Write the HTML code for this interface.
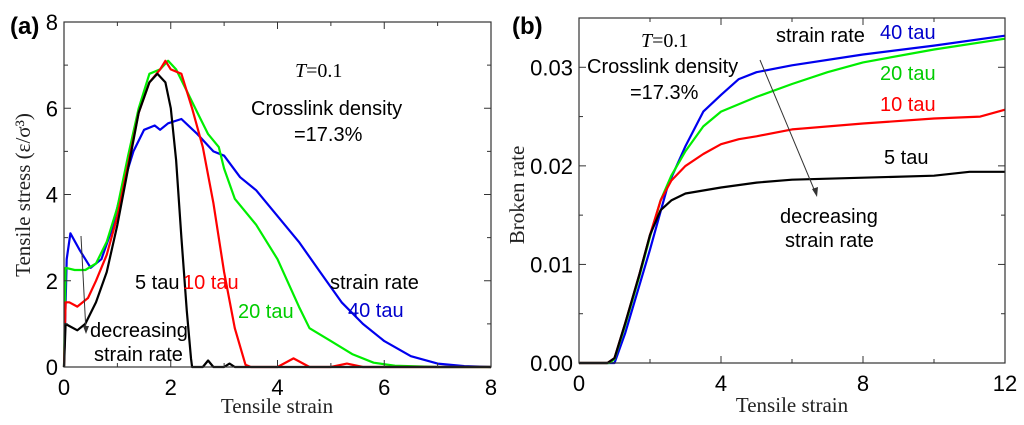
<!DOCTYPE html>
<html><head><meta charset="utf-8"><style>
body{margin:0;background:#fff;}
svg{display:block;}
.t{font-family:"Liberation Sans",sans-serif;}
.s{font-family:"Liberation Serif",serif;}
</style></head><body>
<svg id="svg" width="1024" height="425" viewBox="0 0 1024 425" xmlns="http://www.w3.org/2000/svg"></svg>
<script>
// Panel a data
const aX5=[0,0.03,0.1,0.25,0.4,0.6,0.8,1.0,1.2,1.4,1.6,1.75,1.9,2.0,2.1,2.2,2.3,2.38,2.4,2.6,2.7,2.8,3.0,3.1,3.2,8];
const aY5=[0,1.0,0.95,0.85,1.0,1.5,2.2,3.3,4.6,5.9,6.6,6.8,6.6,6.0,4.8,3.0,1.3,0.2,0,0,0.15,0,0,0.08,0,0];
const aX10=[0,0.03,0.1,0.25,0.45,0.6,0.8,1.0,1.2,1.4,1.6,1.8,1.9,2.0,2.2,2.4,2.6,2.8,3.0,3.2,3.4,3.5,4.0,4.3,4.6,5.0,5.3,5.6,8];
const aY10=[0,1.5,1.5,1.4,1.6,2.0,2.6,3.5,4.7,5.9,6.6,6.9,7.1,6.9,6.8,6.0,5.1,3.8,2.2,0.9,0.05,0,0,0.2,0,0,0.08,0,0];
const aX20=[0,0.03,0.2,0.4,0.6,0.8,1.0,1.2,1.4,1.6,1.8,1.95,2.1,2.3,2.5,2.7,2.9,3.0,3.2,3.6,4.0,4.4,4.6,5.0,5.4,5.8,6.2,7,8];
const aY20=[0,2.3,2.25,2.25,2.4,2.9,3.7,4.9,6.0,6.8,6.9,7.1,6.9,6.4,5.9,5.4,5.1,4.6,3.9,3.3,2.5,1.4,0.9,0.6,0.3,0.1,0.03,0,0];
const aX40=[0,0.05,0.12,0.3,0.5,0.7,0.9,1.1,1.3,1.5,1.7,1.8,1.95,2.2,2.5,2.8,3.0,3.3,3.6,4.0,4.4,4.8,5.2,5.6,6.0,6.5,7.0,7.5,8];
const aY40=[0,2.5,3.1,2.7,2.3,2.5,3.2,4.2,5.0,5.5,5.6,5.5,5.65,5.75,5.4,5.0,4.9,4.4,4.1,3.5,2.9,2.2,1.5,1.0,0.6,0.25,0.08,0.02,0];
const aXTicks=[0,2,4,6,8];
const aYTicks=[0,2,4,6,8];
// Panel b data
const bX5=[0,0.8,1.0,1.3,1.7,2.0,2.3,2.6,3,4,5,6,8,10,11,12];
const bY5=[0,0,0.0005,0.004,0.009,0.013,0.0155,0.0165,0.0172,0.0178,0.0183,0.0186,0.0188,0.019,0.0194,0.0194];
const bX10=[0,0.8,1.0,1.3,1.7,2.0,2.3,2.6,3,3.5,4,4.5,5,6,8,10,11.3,12];
const bY10=[0,0,0.0005,0.004,0.009,0.013,0.0165,0.0185,0.020,0.0212,0.0222,0.0227,0.023,0.0237,0.0243,0.0248,0.025,0.0257];
const bX20=[0,0.85,1.0,1.3,1.7,2.0,2.3,2.6,3,3.5,4,5,6,7,8,10,12];
const bY20=[0,0,0.0004,0.0038,0.0088,0.0128,0.0165,0.019,0.0215,0.024,0.0255,0.027,0.0283,0.0295,0.0305,0.0318,0.0329];
const bX40=[0,1.0,1.3,2.0,2.5,3,3.5,4,4.5,5,6,8,10,12];
const bY40=[0,0,0.003,0.0115,0.018,0.022,0.0255,0.0272,0.0288,0.0295,0.0302,0.0313,0.0322,0.0332];
const bXTicks=[0,4,8,12];
const bYTicks=[0,0.01,0.02,0.03];
const bYLabels=["0.00","0.01","0.02","0.03"];

const NS="http://www.w3.org/2000/svg";
const svg=document.getElementById('svg');
function mk(tag,attrs,parent){const e=document.createElementNS(NS,tag);for(const k in attrs)e.setAttribute(k,attrs[k]);(parent||svg).appendChild(e);return e;}
function txt(x,y,s,cls,size,fill,anchor,name,extra){const e=mk('text',Object.assign({x:x,y:y,class:cls,'font-size':size,fill:fill,'text-anchor':anchor||'start'},extra||{}));e.textContent=s;


return e;}

function panel(p){
  const sx=v=>p.x0+(v-p.xmin)/(p.xmax-p.xmin)*(p.x1-p.x0);
  const sy=v=>p.y0-(v-p.ymin)/(p.ymax-p.ymin)*(p.y0-p.y1);
  const g=mk('g',{});
  
  
  p.series.forEach(s=>{
    let d='';s.x.forEach((v,i)=>{d+=(i?'L':'M')+sx(v).toFixed(1)+','+sy(s.y[i]).toFixed(1);});
    const l=mk('path',{d:d,fill:'none',stroke:s.c,'stroke-width':2.2,'stroke-linejoin':'round'},g);
    
    
  });
  const f=mk('rect',{x:p.x0,y:p.y1,width:p.x1-p.x0,height:p.y0-p.y1,fill:'none',stroke:'#333','stroke-width':1.2},g);
  
  
  for(let v=p.xmin;v<=p.xmax+1e-9;v+=p.xminor){const X=sx(v);const major=p.xt.some(t=>Math.abs(t-v)<1e-9);const L=major?7:4;
    mk('line',{x1:X,y1:p.y0,x2:X,y2:p.y0-L,stroke:'#333','stroke-width':1},g);mk('line',{x1:X,y1:p.y1,x2:X,y2:p.y1+L,stroke:'#333','stroke-width':1},g);}
  for(let v=p.ymin;v<=p.ymax+1e-9;v+=p.yminor){const Y=sy(v);const major=p.yt.some(t=>Math.abs(t-v)<1e-9);const L=major?7:4;
    mk('line',{x1:p.x0,y1:Y,x2:p.x0+L,y2:Y,stroke:'#333','stroke-width':1},g);mk('line',{x1:p.x1,y1:Y,x2:p.x1-L,y2:Y,stroke:'#333','stroke-width':1},g);}
  p.xt.forEach(v=>txt(sx(v),p.y0+28,String(v),'t',22,'#000','middle','x-tick-label'));
  p.yt.forEach((v,i)=>txt(p.x0-6,sy(v)+8,p.yl?p.yl[i]:String(v),'t',22,'#000','end','y-tick-label'));
  return {sx,sy};
}

panel({name:'panel-a',x0:64,x1:491,y0:367,y1:22,xmin:0,xmax:8,ymin:0,ymax:8,xminor:1,yminor:1,xt:aXTicks,yt:aYTicks,
  series:[{x:aX40,y:aY40,c:'#0000ee',n:'line-40-tau'},{x:aX20,y:aY20,c:'#00ee00',n:'line-20-tau'},{x:aX10,y:aY10,c:'#ff0000',n:'line-10-tau'},{x:aX5,y:aY5,c:'#000',n:'line-5-tau'}]});
panel({name:'panel-b',x0:579,x1:1005,y0:363,y1:18,xmin:0,xmax:12,ymin:0,ymax:0.035,xminor:2,yminor:0.005,xt:bXTicks,yt:bYTicks,yl:bYLabels,
  series:[{x:bX40,y:bY40,c:'#0000ee',n:'line-40-tau'},{x:bX20,y:bY20,c:'#00ee00',n:'line-20-tau'},{x:bX10,y:bY10,c:'#ff0000',n:'line-10-tau'},{x:bX5,y:bY5,c:'#000',n:'line-5-tau'}]});

// Panel a labels
txt(10,34,'(a)','t',24,'#000','start','panel-a-label',{'font-weight':'bold'});
txt(277,413,'Tensile strain','s',21,'#222','middle','x-axis-title');
txt(30,195,'Tensile stress (ε/σ³)','s',21,'#222','middle','y-axis-title',{transform:'rotate(-90 30 195)'});
const ta=txt(295,77,'','s',20,'#000','start','temperature-label');
ta.innerHTML='<tspan font-style="italic">T</tspan>=0.1';
txt(251,115,'Crosslink density','t',20,'#000','start','annotation-crosslink');
txt(294,141,'=17.3%','t',20,'#000','start','annotation-percent');
txt(135,289,'5 tau','t',20,'#000','start','label-5-tau');
txt(183,289,'10 tau','t',20,'#ff0000','start','label-10-tau');
txt(238,318,'20 tau','t',20,'#00cc00','start','label-20-tau');
txt(330,289,'strain rate','t',20,'#000','start','label-strain-rate');
txt(348,317,'40 tau','t',20,'#0000cc','start','label-40-tau');
txt(90,337,'decreasing','t',20,'#000','start','label-decreasing');
txt(94,361,'strain rate','t',20,'#000','start','label-strain-rate-2');
mk('line',{x1:81,y1:236,x2:86,y2:332,stroke:'#333','stroke-width':1});
mk('path',{d:'M83,326 L86,334 L89,326 Z',fill:'#333'});

// Panel b labels
txt(512,34,'(b)','t',24,'#000','start','panel-b-label',{'font-weight':'bold'});
txt(792,412,'Tensile strain','s',21,'#222','middle','x-axis-title');
txt(524,195,'Broken rate','s',21,'#222','middle','y-axis-title',{transform:'rotate(-90 524 195)'});
const tb=txt(641,47,'','s',20,'#000','start','temperature-label');
tb.innerHTML='<tspan font-style="italic">T</tspan>=0.1';
txt(587,73,'Crosslink density','t',20,'#000','start','annotation-crosslink');
txt(630,99,'=17.3%','t',20,'#000','start','annotation-percent');
txt(776,42,'strain rate','t',20,'#000','start','label-strain-rate');
txt(880,39,'40 tau','t',20,'#0000cc','start','label-40-tau');
txt(880,80,'20 tau','t',20,'#00cc00','start','label-20-tau');
txt(880,111,'10 tau','t',20,'#ff0000','start','label-10-tau');
txt(884,164,'5 tau','t',20,'#000','start','label-5-tau');
txt(780,223,'decreasing','t',20,'#000','start','label-decreasing');
txt(785,247,'strain rate','t',20,'#000','start','label-strain-rate-2');
mk('line',{x1:760,y1:60,x2:816,y2:194,stroke:'#333','stroke-width':1});
mk('path',{d:'M812,189 L817,197 L818,187 Z',fill:'#333'});
</script>
</body></html>
